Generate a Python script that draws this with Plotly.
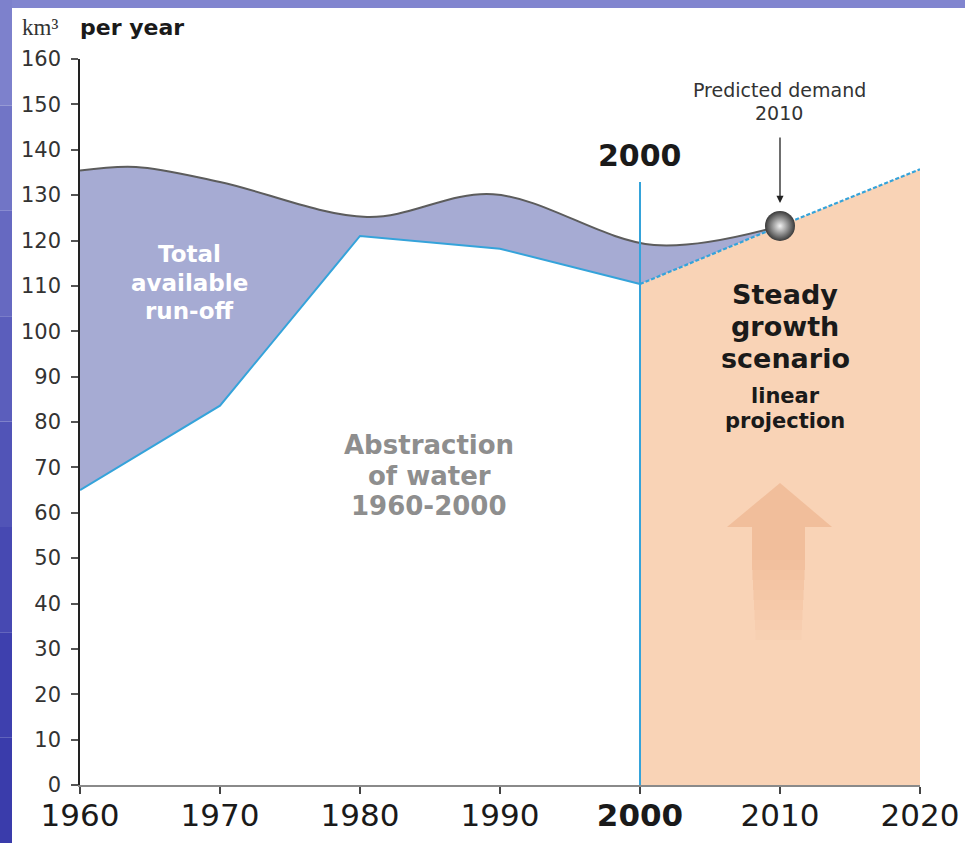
import plotly.graph_objects as go

# ---------------- data ----------------
hist_years = [1960, 1970, 1980, 1990, 2000]
abstraction = [65.0, 83.6, 121.0, 118.2, 110.4]

runoff_years = [1960, 1964, 1970, 1980.5, 1989.5, 2001, 2010]
runoff = [135.4, 136.2, 132.9, 125.2, 130.2, 119.0, 123.2]

proj_years = [2000, 2010, 2020]
projection = [110.4, 123.2, 135.7]

demand_year = 2010
demand_value = 123.2

x_ticks = [1960, 1970, 1980, 1990, 2000, 2010, 2020]
x_tick_text = ["1960", "1970", "1980", "1990", "<b>2000</b>", "2010", "2020"]
y_ticks = list(range(0, 161, 10))

# ---------------- layout geometry (pixels) ----------------
W, H = 965, 843
PLOT_L, PLOT_R, PLOT_T, PLOT_B = 80, 920, 59, 785   # plot area edges in page pixels
L, R, T, B = PLOT_L, W - PLOT_R, PLOT_T, H - PLOT_B
PW, PH = PLOT_R - PLOT_L, PLOT_B - PLOT_T

def pp(px, py):
    return (px - PLOT_L) / PW, (PLOT_B - py) / PH

def dx(px):
    return 1960 + (px - PLOT_L) / PW * 60

def dy(py):
    return (PLOT_B - py) / PH * 160

FONT = "DejaVu Sans, Arial, sans-serif"
BLUE = "#35A3DA"
PEACH = "#F9D3B6"
LAV = "#A6ABD3"

fig = go.Figure()

# projection area (peach)
fig.add_trace(go.Scatter(x=proj_years, y=projection, mode="lines",
                         line=dict(width=0, color=PEACH), fill="tozeroy",
                         fillcolor=PEACH, hoverinfo="skip", showlegend=False))
# lower boundary of run-off band
fig.add_trace(go.Scatter(x=hist_years + proj_years[1:2],
                         y=abstraction + projection[1:2], mode="lines",
                         line=dict(width=0, color=LAV), hoverinfo="skip",
                         showlegend=False))
# total available run-off
fig.add_trace(go.Scatter(x=runoff_years, y=runoff, mode="lines",
                         line=dict(color="#5C5C5C", width=2, shape="spline",
                                   smoothing=1.0),
                         fill="tonexty", fillcolor=LAV, showlegend=False))
# abstraction line
fig.add_trace(go.Scatter(x=hist_years, y=abstraction, mode="lines",
                         line=dict(color=BLUE, width=2), showlegend=False))
# projection line (dashed)
fig.add_trace(go.Scatter(x=proj_years, y=projection, mode="lines",
                         line=dict(color=BLUE, width=2.2, dash="4px,2px"),
                         showlegend=False))
# predicted demand ball
fig.add_trace(go.Scatter(x=[demand_year], y=[demand_value], mode="markers",
                         marker=dict(size=30, color="#3A3A3A",
                                     gradient=dict(type="radial", color="#F2F2F2"),
                                     line=dict(width=0)),
                         showlegend=False))

shapes = []
# blue slide border
shapes.append(dict(type="rect", xref="paper", yref="paper",
                   x0=pp(0, 0)[0], x1=pp(W, 0)[0], y0=pp(0, 8)[1], y1=pp(0, 0)[1],
                   fillcolor="#8185CF", line=dict(width=0), layer="below"))
left_cols = ["#7D81CC", "#7175C6", "#6669C1", "#5B5EBC", "#5154B7", "#4749B2", "#3E40AE", "#3A3CAB"]
n = len(left_cols)
for i, c in enumerate(left_cols):
    shapes.append(dict(type="rect", xref="paper", yref="paper",
                       x0=pp(0, 0)[0], x1=pp(12, 0)[0],
                       y0=pp(0, H * (i + 1) / n)[1], y1=pp(0, H * i / n)[1],
                       fillcolor=c, line=dict(width=0), layer="below"))
# 2000 vertical line
shapes.append(dict(type="line", xref="x", yref="y", x0=2000, x1=2000, y0=0,
                   y1=dy(182), line=dict(color=BLUE, width=2)))

# big faded arrow (decoration, pixel-defined)
AC = "#F1BE9B"
shapes.append(dict(type="path", xref="x", yref="y", layer="above",
                   path=f"M {dx(727)},{dy(527)} L {dx(780)},{dy(483)} L {dx(832)},{dy(527)} Z",
                   fillcolor=AC, line=dict(width=0)))
shapes.append(dict(type="rect", xref="x", yref="y", layer="above",
                   x0=dx(752), x1=dx(805), y0=dy(560), y1=dy(527),
                   fillcolor=AC, line=dict(width=0)))
steps = 8
for i in range(steps):
    y_top = 560 + i * 10
    op = 0.9 - i * 0.11
    shapes.append(dict(type="rect", xref="x", yref="y", layer="above",
                       x0=dx(752 + i * 0.5), x1=dx(805 - i * 0.5),
                       y0=dy(y_top + 10), y1=dy(y_top),
                       fillcolor=AC, opacity=max(op, 0.08), line=dict(width=0)))

annotations = []
def txt(text, px, py, size, color, bold=False, family=FONT, xanchor="center"):
    x, y = pp(px, py)
    annotations.append(dict(xref="paper", yref="paper", x=x, y=y,
                            text=(f"<b>{text}</b>" if bold else text),
                            showarrow=False, xanchor=xanchor, yanchor="middle",
                            font=dict(family=family, size=size, color=color)))

# title
txt("km³", 20, 27, 23, "#333333", family="Liberation Serif, Times New Roman, serif", xanchor="left")
txt("per year", 78, 27, 22, "#1A1A1A", bold=True, xanchor="left")
# run-off label
for t, y in [("Total", 254), ("available", 283), ("run-off", 311)]:
    txt(t, 189, y, 23, "#FFFFFF", bold=True)
# abstraction label
for t, y in [("Abstraction", 445), ("of water", 476), ("1960-2000", 506)]:
    txt(t, 429, y, 26, "#8E8E8E", bold=True)
# steady growth
for t, y in [("Steady", 294), ("growth", 326), ("scenario", 358)]:
    txt(t, 785, y, 27, "#1A1A1A", bold=True)
for t, y in [("linear", 396), ("projection", 421)]:
    txt(t, 785, y, 21, "#1A1A1A", bold=True)
# 2000 label
txt("2000", 640, 156, 30, "#1A1A1A", bold=True)
# predicted demand
txt("Predicted demand", 779, 90, 19, "#333333")
txt("2010", 779, 113, 19, "#333333")
annotations.append(dict(xref="x", yref="y", x=demand_year, y=dy(203), ax=0, ay=-67,
                        text="", showarrow=True, arrowhead=2, arrowsize=1.1,
                        arrowwidth=1.3, arrowcolor="#222222"))

fig.update_layout(
    width=W, height=H, autosize=False,
    margin=dict(l=L, r=R, t=T, b=B, pad=0, autoexpand=False),
    paper_bgcolor="white", plot_bgcolor="white",
    shapes=shapes, annotations=annotations,
    font=dict(family=FONT),
    xaxis=dict(range=[1960, 2020], tickvals=x_ticks, ticktext=x_tick_text,
               automargin=False,
               showgrid=False, zeroline=False, showline=True, linecolor="#8A8A8A",
               linewidth=2, ticks="outside", ticklen=7, tickcolor="#444444",
               tickwidth=1.5, ticklabelstandoff=-5,
               tickfont=dict(size=31, color="#1A1A1A", family=FONT)),
    yaxis=dict(range=[0, 160], tickvals=y_ticks, showgrid=False, zeroline=False,
               automargin=False,
               showline=True, linecolor="#222222", linewidth=1.5, ticks="outside",
               ticklen=7, tickcolor="#555555", tickwidth=1.5, ticklabelstandoff=6,
               tickfont=dict(size=21, color="#333333", family=FONT)),
)

fig.write_html("out.html",
               config={"responsive": False, "displayModeBar": False},
               post_script="document.body.style.margin='0';document.body.style.padding='0';document.body.style.overflow='hidden';")
